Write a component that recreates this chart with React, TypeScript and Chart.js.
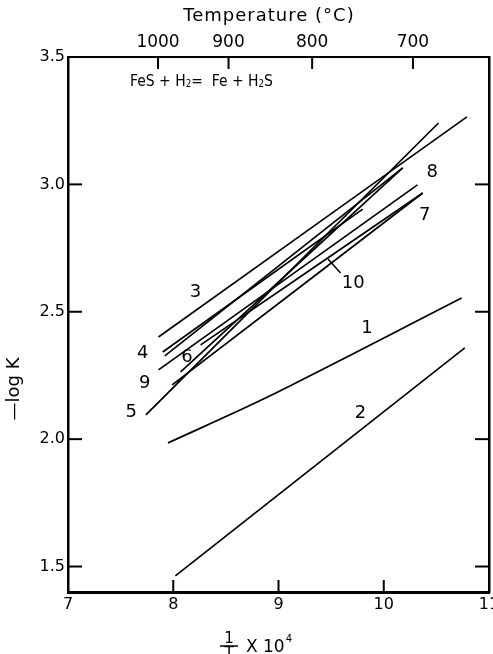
import React, { useEffect, useRef } from "react";
import { Chart, registerables } from "chart.js";

Chart.register(...registerables);

// ---- axes ----
const X_MIN = 7;
const X_MAX = 11;
const Y_MIN = 1.4;
const Y_MAX = 3.5;
const xTicks = [7, 8, 9, 10, 11];
const yTicks = [1.5, 2.0, 2.5, 3.0, 3.5];
const tempTicksC = [1000, 900, 800, 700];

// ---- series (x = 1/T x 10^4, y = -log K) ----
const line1X = [7.95, 8.9, 10.74];
const line1Y = [1.985, 2.166, 2.554];
const line2X = [8.02, 10.77];
const line2Y = [1.463, 2.358];
const line3X = [7.86, 10.79];
const line3Y = [2.401, 3.265];
const line4X = [7.9, 9.8];
const line4Y = [2.342, 2.903];
const line5X = [7.74, 10.52];
const line5Y = [2.095, 3.241];
const line6X = [8.07, 10.18];
const line6Y = [2.264, 3.065];
const line7X = [7.99, 10.37];
const line7Y = [2.213, 2.966];
const line8X = [7.92, 10.18];
const line8Y = [2.327, 3.065];
const line9X = [7.86, 10.32];
const line9Y = [2.272, 2.998];
const line10X = [8.26, 10.37];
const line10Y = [2.37, 2.966];

const seriesX = [line1X, line2X, line3X, line4X, line5X, line6X, line7X, line8X, line9X, line10X];
const seriesY = [line1Y, line2Y, line3Y, line4Y, line5Y, line6Y, line7Y, line8Y, line9Y, line10Y];

// ---- curve labels ----
const labelText = ["1", "2", "3", "4", "9", "5", "6", "8", "7", "10"];
const labelX = [9.84, 9.78, 8.21, 7.71, 7.73, 7.6, 8.13, 10.46, 10.39, 9.71];
const labelY = [2.436, 2.103, 2.578, 2.338, 2.22, 2.107, 2.323, 3.049, 2.88, 2.613];
const leaderX = [9.47, 9.59];
const leaderY = [2.707, 2.652];

const FONT = "'DejaVu Sans', sans-serif";

const overlay = {
  id: "overlay",
  afterDraw(chart: any) {
    const ctx = chart.ctx;
    const sx = chart.scales.x;
    const sy = chart.scales.y;
    const st = chart.scales.x2;
    const area = chart.chartArea;
    ctx.save();
    ctx.strokeStyle = "#000";
    ctx.fillStyle = "#000";
    ctx.lineWidth = 2;
    // inward ticks
    xTicks.slice(1, -1).forEach((v) => {
      const p = sx.getPixelForValue(v);
      ctx.beginPath();
      ctx.moveTo(p, area.bottom);
      ctx.lineTo(p, area.bottom - 12);
      ctx.stroke();
    });
    tempTicksC.forEach((t) => {
      const p = st.getPixelForValue(1e4 / (t + 273));
      ctx.beginPath();
      ctx.moveTo(p, area.top);
      ctx.lineTo(p, area.top + 12);
      ctx.stroke();
    });
    yTicks.slice(0, -1).forEach((v) => {
      const p = sy.getPixelForValue(v);
      ctx.beginPath();
      ctx.moveTo(area.left, p);
      ctx.lineTo(area.left + 14, p);
      ctx.stroke();
      ctx.beginPath();
      ctx.moveTo(area.right, p);
      ctx.lineTo(area.right - 14, p);
      ctx.stroke();
    });

    // curve labels
    ctx.font = `18px ${FONT}`;
    ctx.textAlign = "center";
    ctx.textBaseline = "middle";
    labelText.forEach((t, i) => {
      ctx.fillText(t, sx.getPixelForValue(labelX[i]), sy.getPixelForValue(labelY[i]));
    });
    ctx.lineWidth = 1.5;
    ctx.beginPath();
    ctx.moveTo(sx.getPixelForValue(leaderX[0]), sy.getPixelForValue(leaderY[0]));
    ctx.lineTo(sx.getPixelForValue(leaderX[1]), sy.getPixelForValue(leaderY[1]));
    ctx.stroke();

    // reaction text (slightly condensed)
    const drawRich = (parts: [string, boolean][], x: number, y: number, size: number, squeeze: number) => {
      ctx.save();
      ctx.translate(x, y);
      ctx.scale(squeeze, 1);
      let cx = 0;
      ctx.textAlign = "left";
      ctx.textBaseline = "alphabetic";
      parts.forEach(([s, sub]) => {
        ctx.font = `${sub ? Math.round(size * 0.65) : size}px ${FONT}`;
        ctx.fillText(s, cx, sub ? 1 : 0);
        cx += ctx.measureText(s).width;
      });
      ctx.restore();
    };
    drawRich(
      [
        ["FeS + H", false],
        ["2", true],
        ["=  Fe + H", false],
        ["2", true],
        ["S", false],
      ],
      130,
      86,
      16,
      0.87
    );

    // top title
    ctx.font = `18px ${FONT}`;
    ctx.textAlign = "center";
    ctx.textBaseline = "middle";
    (ctx as any).letterSpacing = "1px";
    ctx.fillText("Temperature (°C)", 269, 16);
    (ctx as any).letterSpacing = "0px";

    // y title
    ctx.save();
    ctx.translate(14, 389);
    ctx.rotate(-Math.PI / 2);
    ctx.font = `18px ${FONT}`;
    ctx.fillText("\u2014log K", 0, 0);
    ctx.restore();

    // x title: 1/T x 10^4
    ctx.font = `15px ${FONT}`;
    ctx.textAlign = "center";
    ctx.textBaseline = "alphabetic";
    ctx.fillText("1", 229, 643);
    ctx.lineWidth = 1.5;
    ctx.beginPath();
    ctx.moveTo(220, 646);
    ctx.lineTo(238, 646);
    ctx.stroke();
    ctx.textBaseline = "top";
    ctx.fillText("T", 229, 647);
    ctx.textAlign = "left";
    ctx.textBaseline = "alphabetic";
    ctx.font = `17px ${FONT}`;
    ctx.fillText("X 10", 246, 652);
    const w = ctx.measureText("X 10").width;
    ctx.font = `10px ${FONT}`;
    ctx.fillText("4", 246 + w + 1, 642);
    ctx.restore();
  },
};

const noPad = (s: any) => {
  s.paddingLeft = 0;
  s.paddingRight = 0;
  s.paddingTop = 0;
  s.paddingBottom = 0;
};

export default function App() {
  const ref = useRef<HTMLCanvasElement | null>(null);
  useEffect(() => {
    if (!ref.current) return;
    const tickFont = { family: FONT, size: 16 };
    const chart = new Chart(ref.current, {
      type: "scatter",
      data: {
        datasets: seriesX.map((xs, i) => ({
          label: String(i + 1),
          data: xs.map((x, j) => ({ x, y: seriesY[i][j] })),
          showLine: true,
          borderColor: "#000",
          borderWidth: 1.7,
          pointRadius: 0,
          tension: 0.3,
        })),
      },
      options: {
        animation: false,
        responsive: false,
        devicePixelRatio: 1,
        layout: { padding: 0 },
        plugins: { legend: { display: false }, tooltip: { enabled: false } },
        scales: {
          x: {
            type: "linear",
            position: "bottom",
            min: X_MIN,
            max: X_MAX,
            afterBuildTicks: (s: any) => {
              s.ticks = xTicks.map((v) => ({ value: v }));
            },
            ticks: { font: tickFont, color: "#000", padding: 3, maxRotation: 0, callback: (v: any) => String(v) },
            grid: { display: false, drawTicks: false },
            border: { display: true, color: "#000", width: 3 },
            afterFit: (s: any) => {
              s.height = 62;
              noPad(s);
            },
          },
          x2: {
            type: "linear",
            position: "top",
            min: X_MIN,
            max: X_MAX,
            afterBuildTicks: (s: any) => {
              s.ticks = tempTicksC.map((t) => ({ value: 1e4 / (t + 273) }));
            },
            ticks: {
              font: { family: FONT, size: 17 },
              color: "#000",
              padding: 4,
              maxRotation: 0,
              callback: (_v: any, i: number) => String(tempTicksC[i]),
            },
            grid: { display: false, drawTicks: false },
            border: { display: true, color: "#000", width: 2 },
            afterFit: (s: any) => {
              s.height = 57;
              noPad(s);
            },
          },
          y: {
            type: "linear",
            position: "left",
            min: Y_MIN,
            max: Y_MAX,
            afterBuildTicks: (s: any) => {
              s.ticks = yTicks.map((v) => ({ value: v }));
            },
            ticks: { font: tickFont, color: "#000", padding: 3, callback: (v: any) => Number(v).toFixed(1) },
            grid: { display: false, drawTicks: false },
            border: { display: true, color: "#000", width: 2.5 },
            afterFit: (s: any) => {
              s.width = 68;
              noPad(s);
            },
          },
          y2: {
            type: "linear",
            position: "right",
            min: Y_MIN,
            max: Y_MAX,
            ticks: { display: false },
            grid: { display: false, drawTicks: false },
            border: { display: true, color: "#000", width: 2.5 },
            afterFit: (s: any) => {
              s.width = 4;
              noPad(s);
            },
          },
        },
      },
      plugins: [overlay],
    });
    return () => chart.destroy();
  }, []);
  return (
    <div style={{ position: "absolute", left: 0, top: 0, width: 493, height: 654, background: "#fff" }}>
      <canvas ref={ref} width={493} height={654} />
    </div>
  );
}
